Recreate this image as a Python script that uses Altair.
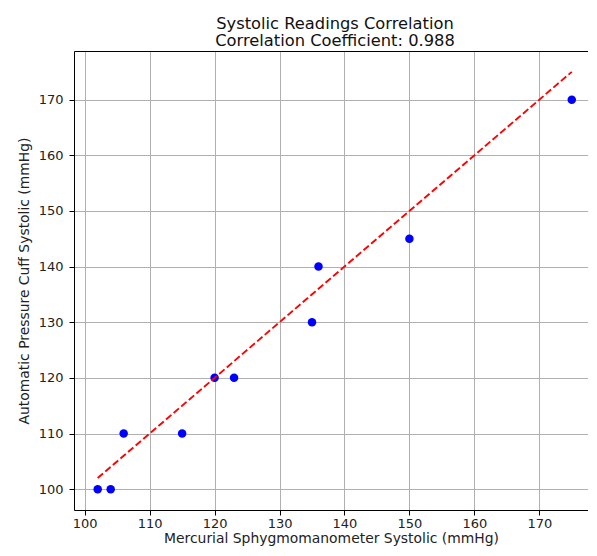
import altair as alt
import pandas as pd

mercurial = [102, 104, 106, 115, 120, 123, 135, 136, 150, 175]
automatic = [100, 100, 110, 110, 120, 120, 130, 140, 145, 170]
line_x = [102, 175]
line_y = [102, 175]
x_ticks = [100, 110, 120, 130, 140, 150, 160, 170]
y_ticks = [100, 110, 120, 130, 140, 150, 160, 170]

pts = pd.DataFrame({"m": mercurial, "a": automatic})
ln = pd.DataFrame({"m": line_x, "a": line_y})

xscale = alt.Scale(domain=[98.35, 177.5], nice=False, zero=False)
yscale = alt.Scale(domain=[96.25, 178.75], nice=False, zero=False)

FONT = "DejaVu Sans"
xax = alt.Axis(values=x_ticks, title="Mercurial Sphygmomanometer Systolic (mmHg)",
               grid=True, gridColor="#b0b0b0", gridWidth=1,
               domain=True, domainColor="black", domainWidth=1,
               tickColor="black", tickSize=5, labelPadding=2, labelFontSize=13,
               labelColor="#222", titleFontSize=13.9, titleFontWeight="normal",
               titleColor="#222", titlePadding=1, labelFont=FONT, titleFont=FONT)
yax = alt.Axis(values=y_ticks, title="Automatic Pressure Cuff Systolic (mmHg)",
               grid=True, gridColor="#b0b0b0", gridWidth=1,
               domain=True, domainColor="black", domainWidth=1,
               tickColor="black", tickSize=5, labelPadding=6, labelFontSize=13,
               labelColor="#222", titleFontSize=13.9, titleFontWeight="normal",
               titleColor="#222", titlePadding=7, labelFont=FONT, titleFont=FONT)
top_ax = alt.Axis(orient="top", labels=False, ticks=False, grid=False, title=None,
                  domain=True, domainColor="black", domainWidth=1)

points = alt.Chart(pts).mark_circle(size=72, color="#0000ff", opacity=1).encode(
    x=alt.X("m:Q", scale=xscale, axis=xax),
    y=alt.Y("a:Q", scale=yscale, axis=yax),
)

line = alt.Chart(ln).mark_line(color="#ff0000", strokeDash=[7, 3], strokeWidth=1.9).encode(
    x=alt.X("m:Q", scale=xscale, axis=top_ax),
    y=alt.Y("a:Q", scale=yscale),
)

chart = alt.layer(points, line).resolve_axis(x="independent").properties(
    width=514,
    height=459,
    autosize=alt.AutoSizeParams(type="none"),
    padding={"left": 66, "top": 43, "right": 0, "bottom": 38},
    title=alt.TitleParams(
        text=["Systolic Readings Correlation", "Correlation Coefficient: 0.988"],
        fontSize=16.3, fontWeight="normal", font=FONT, color="#111",
        lineHeight=17, anchor="middle", dx=4, offset=2,
    ),
).configure_view(stroke=None)

chart.save("out.html", embed_options={"renderer": "svg", "actions": False})
